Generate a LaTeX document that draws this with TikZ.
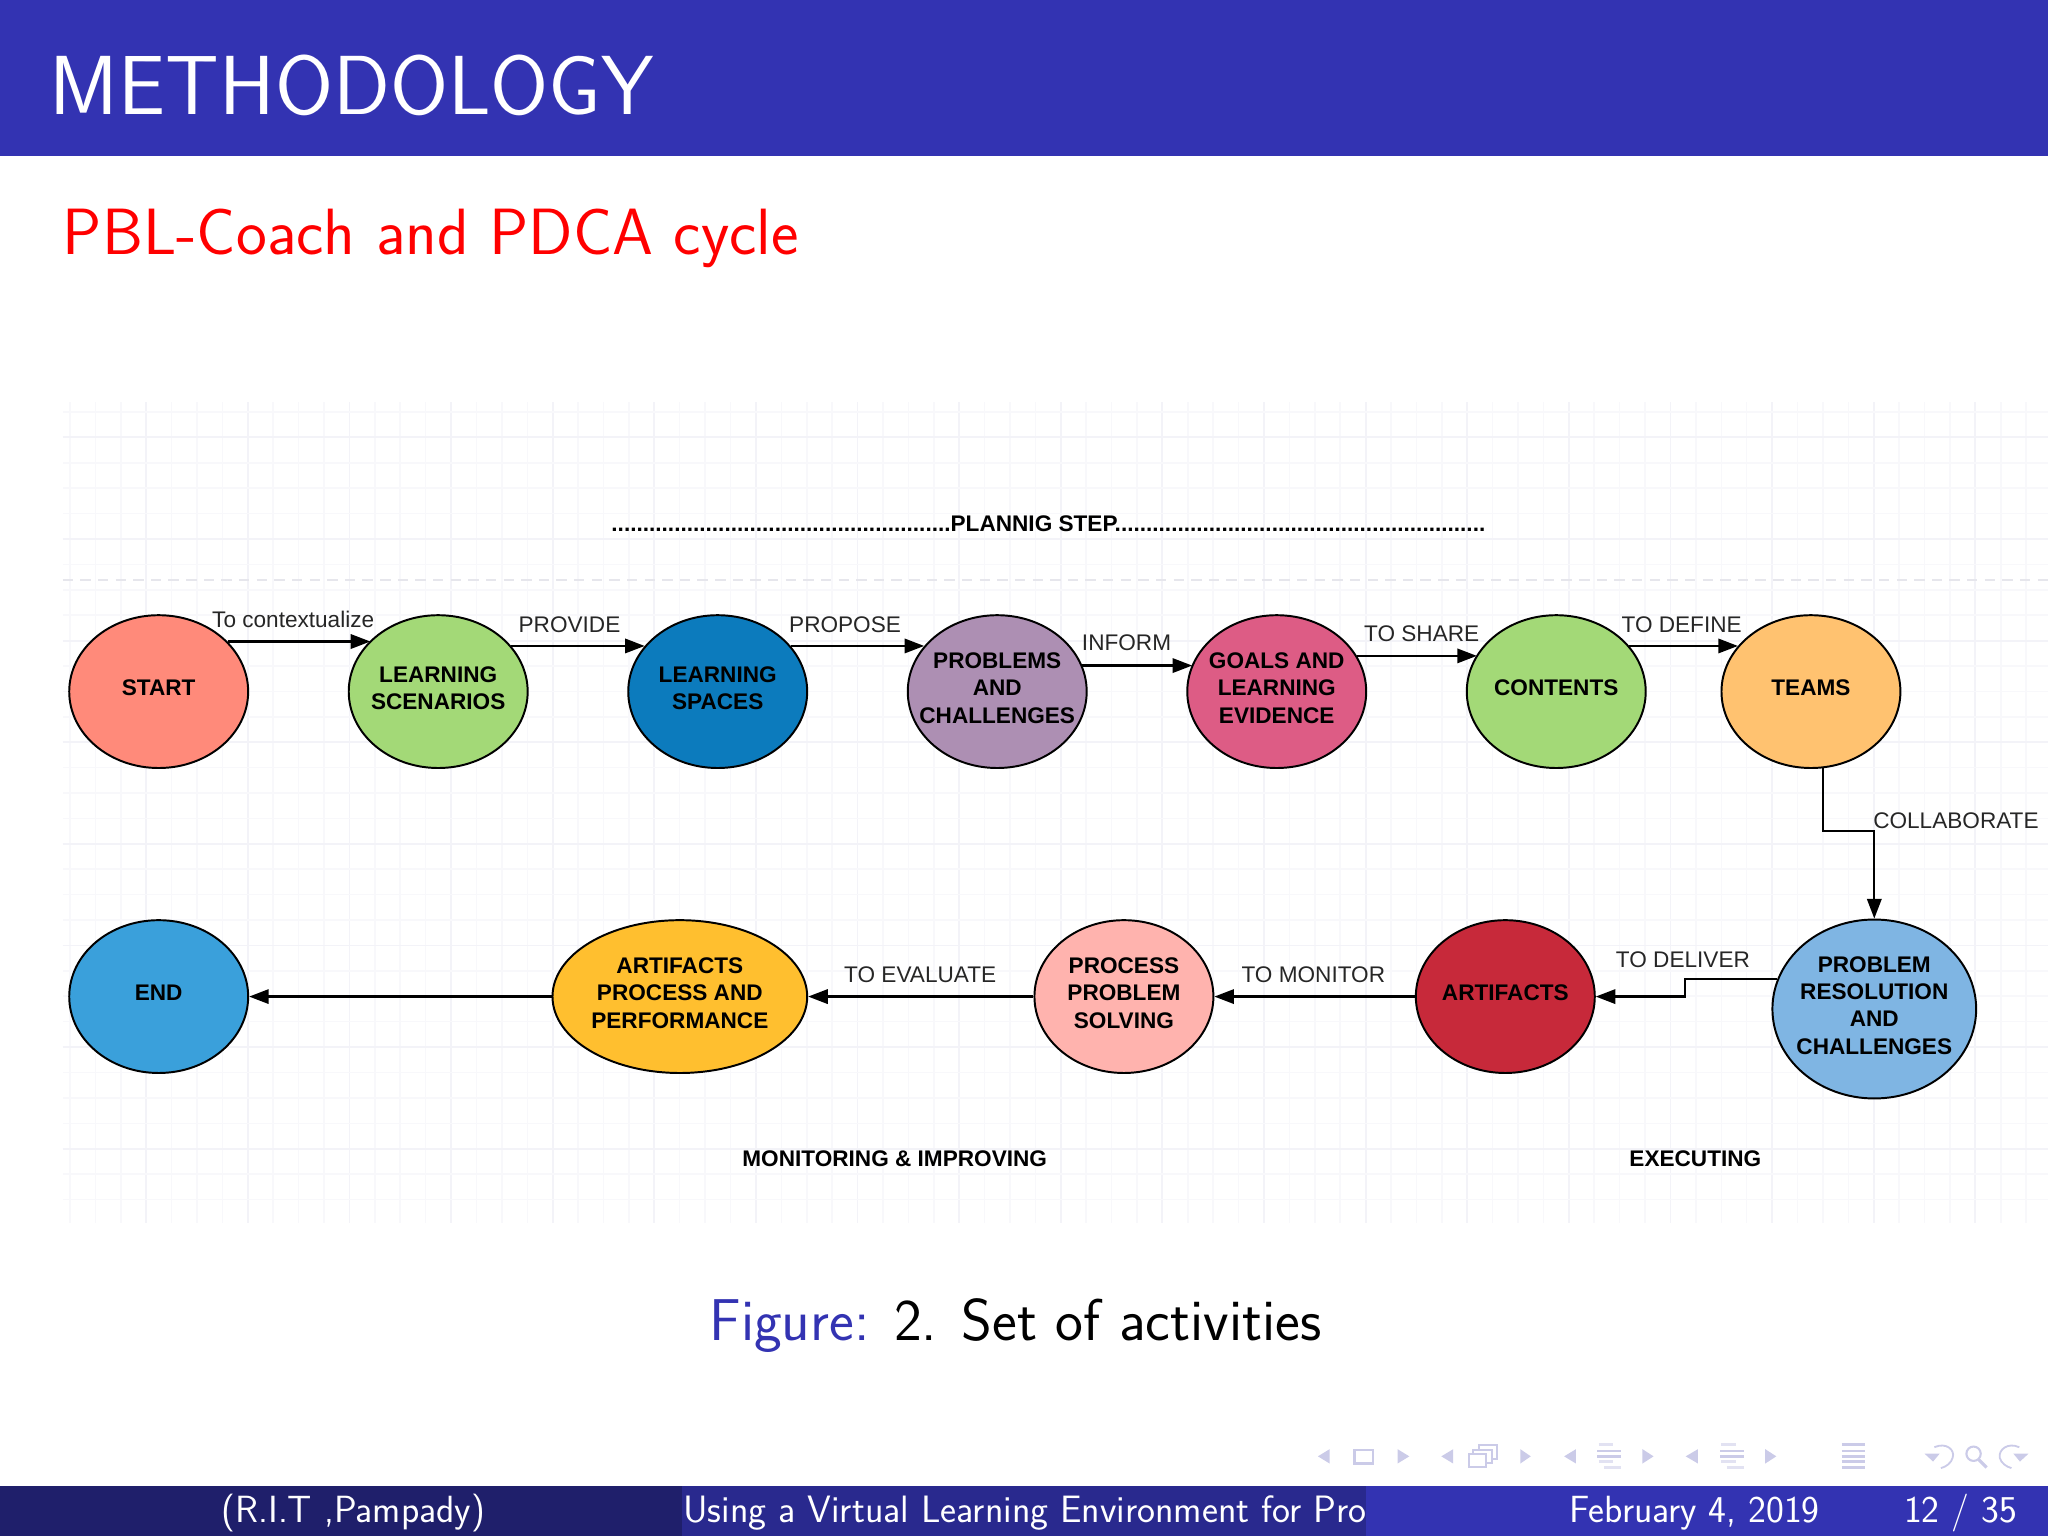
\documentclass[tikz,border=0pt]{standalone}
\usepackage{fontspec}
\setmainfont{Liberation Sans}
\usetikzlibrary{shapes.geometric,arrows.meta}
\definecolor{barA}{HTML}{3333B2}
\definecolor{barB}{HTML}{29298E}
\definecolor{barC}{HTML}{1F1F6B}
\definecolor{navc}{HTML}{CBCBE8}
\definecolor{navl}{HTML}{E2E2F2}
\definecolor{gridA}{HTML}{F8F8FB}
\definecolor{gridB}{HTML}{F3F3F8}
\definecolor{gridD}{HTML}{E6E6EC}
\definecolor{cStart}{HTML}{FF8A7A}
\definecolor{cGreen}{HTML}{A3D977}
\definecolor{cBlue}{HTML}{0C7BBD}
\definecolor{cPurple}{HTML}{AD8FB3}
\definecolor{cPink}{HTML}{DD5C85}
\definecolor{cOrange}{HTML}{FFC270}
\definecolor{cSky}{HTML}{7FB5E3}
\definecolor{cRed}{HTML}{C7293A}
\definecolor{cSalmon}{HTML}{FFB3AE}
\definecolor{cYellow}{HTML}{FFBF2F}
\definecolor{cEnd}{HTML}{3AA0DB}
\newcommand{\dtxt}[1]{\raisebox{1pt}[\height][\depth]{\makebox[0pt]{\renewcommand{\arraystretch}{1}\begin{tabular}{@{}c@{}}#1\end{tabular}}}}
\newcommand{\dotsA}{......................................................}
\newcommand{\dotsB}{...........................................................}
\tikzset{
  x=1pt,y=-1pt,
  act/.style={ellipse,draw=black,line width=1.5pt,inner sep=0pt,minimum width=137pt,minimum height=117pt,font=\fontsize{17.3}{21}\selectfont\bfseries,text=black},
  conn/.style={draw=black,line width=1.7pt,-{Triangle[length=15pt,width=11pt]}},
  lbl/.style={inner sep=0pt,font=\fontsize{17.3}{21}\selectfont,text=black!85},
  blbl/.style={inner sep=0pt,font=\fontsize{17.3}{21}\selectfont\bfseries,text=black},
  foot/.style={anchor=base,inner sep=0pt,text=white,font=\sffamily\fontsize{29}{32}\selectfont},
  navtri/.style={fill=navc,draw=none},
  navbox/.style={draw=navc,line width=1.6pt,fill=white},
  navline/.style={draw=navc,line width=1.6pt}
}
\begin{document}
\begin{tikzpicture}
\useasboundingbox (0,0) rectangle (1568,1176);
\clip (0,0) rectangle (1568,1176);
% grid
\foreach \i in {0,...,78}{
  \pgfmathsetmacro{\gx}{53.6+19.45*\i}
  \pgfmathparse{int(mod(\i,4))}
  \ifnum\pgfmathresult=3\relax
    \draw[gridB,line width=1.4pt] (\gx,308) -- (\gx,936);
  \else
    \draw[gridA,line width=1.2pt] (\gx,308) -- (\gx,936);
  \fi
}
\foreach \j in {0,...,31}{
  \pgfmathsetmacro{\gy}{315.4+19.45*\j}
  \pgfmathparse{int(mod(\j,4))}
  \ifnum\pgfmathresult=1\relax
    \draw[gridB,line width=1.4pt] (48,\gy) -- (1568,\gy);
  \else
    \draw[gridA,line width=1.2pt] (48,\gy) -- (1568,\gy);
  \fi
}
\draw[gridD,line width=1.2pt,dash pattern=on 8pt off 5.5pt] (48,444) -- (1568,444);
% header
\fill[barA] (0,0) rectangle (1568,119.5);
\node[anchor=base west,inner sep=0pt,text=white,font=\sffamily\fontsize{64.2}{68}\selectfont] (title) at (38,88) {METHODOLOGY};
\node[anchor=base west,inner sep=0pt,text=red,font=\sffamily\fontsize{50.1}{54}\selectfont] (sub) at (48,195) {PBL-Coach and PDCA cycle};
% activities
\node[act,fill=cStart] (start) at (121.5,529.5) {\dtxt{START}};
\node[act,fill=cGreen] (scen) at (335.5,529.5) {\dtxt{LEARNING\\SCENARIOS}};
\node[act,fill=cBlue] (spaces) at (549.5,529.5) {\dtxt{LEARNING\\SPACES}};
\node[act,fill=cPurple] (prob) at (763.5,529.5) {\dtxt{PROBLEMS\\AND\\CHALLENGES}};
\node[act,fill=cPink] (goals) at (977.5,529.5) {\dtxt{GOALS AND\\LEARNING\\EVIDENCE}};
\node[act,fill=cGreen] (cont) at (1191.5,529.5) {\dtxt{CONTENTS}};
\node[act,fill=cOrange] (teams) at (1386.5,529.5) {\dtxt{TEAMS}};
\node[act,fill=cEnd] (end) at (121.5,763) {\dtxt{END}};
\node[act,fill=cYellow,minimum width=195pt] (artproc) at (520.5,763) {\dtxt{ARTIFACTS\\PROCESS AND\\PERFORMANCE}};
\node[act,fill=cSalmon] (proc) at (860.5,763) {\dtxt{PROCESS\\PROBLEM\\SOLVING}};
\node[act,fill=cRed] (art) at (1152.5,763) {\dtxt{ARTIFACTS}};
\node[act,fill=cSky,minimum width=156pt,minimum height=137pt] (res) at (1435,772.5) {\dtxt{PROBLEM\\RESOLUTION\\AND\\CHALLENGES}};
% connectors
\draw[conn] (start.36.7) -- (scen.143.3 |- start.36.7);
\draw[conn] (scen.32) -- (spaces.148 |- scen.32);
\draw[conn] (spaces.32) -- (prob.148 |- spaces.32);
\draw[conn] (prob.17.7) -- (goals.162.3 |- prob.17.7);
\draw[conn] (goals.24.4) -- (cont.155.6 |- goals.24.4);
\draw[conn] (cont.32) -- (teams.148 |- cont.32);
\coordinate (ta) at (1395.5,636);
\coordinate (tb) at (1435,636);
\draw[conn] (teams.-81.2) -- (teams.-81.2 |- ta) -- (tb) -- (res.north);
\coordinate (rb) at (1290,763);
\draw[conn] (res.163.8) -- (res.163.8 -| rb) -- (rb) -- (art.east);
\draw[conn] (art.west) -- (proc.east);
\draw[conn] (proc.west) -- (artproc.east);
\draw[conn] (artproc.west) -- (end.east);
% labels
\node[lbl] (l1) at (224.5,474) {To contextualize};
\node[lbl] (l2) at (436,478) {PROVIDE};
\node[lbl] (l3) at (647,478) {PROPOSE};
\node[lbl] (l4) at (862.5,492) {INFORM};
\node[lbl] (l5) at (1088.5,485) {TO SHARE};
\node[lbl] (l6) at (1287.5,478) {TO DEFINE};
\node[lbl] (l7) at (1497.5,628) {COLLABORATE};
\node[lbl] (l8) at (1288.5,735) {TO DELIVER};
\node[lbl] (l9) at (1005.5,746) {TO MONITOR};
\node[lbl] (l10) at (704.5,746) {TO EVALUATE};
\node[blbl] (plan) at (802.5,401) {\dotsA PLANNIG STEP\dotsB};
\node[blbl] (mon) at (685,887) {MONITORING \& IMPROVING};
\node[blbl] (exec) at (1298,887) {EXECUTING};
% caption
\node[anchor=base,inner sep=0pt,font=\sffamily\fontsize{45.2}{48}\selectfont] (cap) at (777.5,1026) {\textcolor{barA}{Figure:} 2. Set of activities};
% footer
\fill[barC] (0,1138) rectangle (522,1176);
\fill[barB] (522,1138) rectangle (1046,1176);
\fill[barA] (1046,1138) rectangle (1568,1176);
\node[foot] (f1) at (270.5,1166) {(R.I.T ,Pampady)};
\node[foot,anchor=base west,font=\sffamily\fontsize{29.2}{32}\selectfont] (f2) at (523,1166) {Using a Virtual Learning Environment for Pro};
\node[foot] (f3) at (1297.5,1166) {February 4, 2019};
\node[foot] (f4) at (1501,1166) {12 / 35};
% navigation symbols
\foreach \a/\b in {1018/1009,1112.6/1103.5,1206.6/1197.5,1300/1290.6}{
  \fill[navtri] (\a,1109.5) -- (\b,1115) -- (\a,1120.5) -- cycle;
}
\foreach \a/\b in {1070/1079,1164/1172,1257.5/1266,1351.5/1360}{
  \fill[navtri] (\a,1109.5) -- (\b,1115) -- (\a,1120.5) -- cycle;
}
\draw[navbox] (1037,1110) rectangle (1051.5,1120.5);
\draw[navbox] (1132,1106.5) rectangle (1146,1117);
\draw[navbox] (1128,1110) rectangle (1142,1120);
\draw[navbox] (1124.5,1113.5) rectangle (1138,1123.5);
\foreach \x in {1223,1317}{
  \draw[navl,line width=2pt] (\x+1,1106) -- (\x+12,1106);
  \draw[navline,line width=2pt] (\x,1111) -- (\x+18,1111);
  \draw[navline,line width=2pt] (\x,1115) -- (\x+18,1115);
  \draw[navl,line width=2pt] (\x+1,1119) -- (\x+12,1119);
  \draw[navl,line width=2pt] (\x+5,1123.5) -- (\x+18,1123.5);
}
\draw[navline,line width=2pt] (1410,1106) -- (1428,1106);
\draw[navline,line width=2pt] (1410,1111) -- (1428,1111);
\draw[navline,line width=2pt] (1410,1115) -- (1428,1115);
\draw[navline,line width=2pt] (1410,1119) -- (1428,1119);
\draw[navline,line width=2pt] (1410,1123.5) -- (1428,1123.5);
\draw[navline,line width=1.4pt] (1481,1108) .. controls (1490,1104) and (1497,1110) .. (1495,1116) .. controls (1494,1120) and (1490,1123) .. (1486,1124);
\fill[navtri] (1473.5,1113) -- (1485,1113) -- (1480,1119) -- cycle;
\draw[navline,line width=1.6pt] (1511,1113) circle[radius=5.5];
\draw[navline,line width=2.4pt] (1515,1117.5) -- (1521,1123.5);
\draw[navline,line width=1.4pt] (1546,1108) .. controls (1537,1104) and (1530,1110) .. (1531,1116) .. controls (1532,1120) and (1536,1123) .. (1540,1124);
\fill[navtri] (1553,1113) -- (1541.5,1113) -- (1546.5,1119) -- cycle;
\end{tikzpicture}
\end{document}
